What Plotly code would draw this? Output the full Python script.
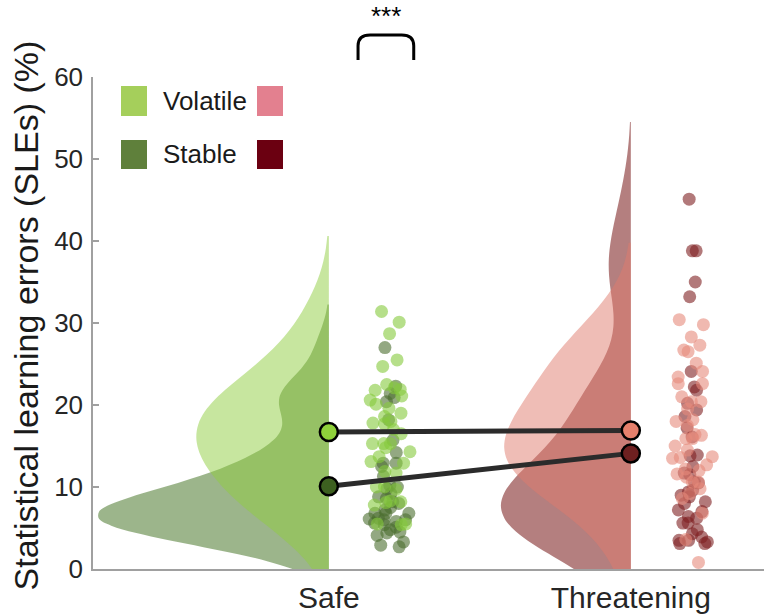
import plotly.graph_objects as go

# ---------------- data ----------------
categories = ["Safe", "Threatening"]
cat_pos = [1, 2]
conditions = ["Volatile", "Stable"]

safe_volatile = [31.4, 30.1, 28.7, 25.5, 24.7, 22.1, 21.9, 21.8, 21.1, 20.1,
                 19.6, 18.6, 17.8, 17.7, 15.3, 15.3, 15.3, 14.3, 13.7, 13.1,
                 12.9, 11.9, 11.7, 10.0, 10.0, 9.7, 8.3, 8.2, 8.1, 7.8,
                 18.0, 5.5, 5.5, 5.4, 22.5, 16.5, 19.0, 20.6, 14.8, 17.0]
safe_stable = [27.0, 22.3, 21.4, 20.9, 20.4, 18.2, 15.7, 14.2, 12.9, 12.5,
               12.9, 10.2, 10.0, 9.8, 8.8, 8.6, 8.2, 8.0, 6.8, 6.8,
               6.8, 6.2, 6.1, 6.0, 6.0, 5.6, 5.4, 5.1, 4.8, 4.5,
               4.1, 3.3, 2.9, 2.7, 7.2, 5.8, 4.4, 11.3, 9.2, 7.5]
threat_volatile = [30.4, 29.8, 28.3, 27.3, 26.5, 26.7, 25.1, 24.1, 23.4, 22.6,
                   22.6, 21.0, 20.4, 20.4, 18.2, 18.0, 17.5, 16.4, 16.3, 15.9,
                   15.9, 15.0, 13.7, 13.6, 13.5, 12.7, 12.2, 11.6, 11.2, 10.6,
                   10.6, 9.8, 9.2, 8.6, 6.8, 3.6, 0.8, 19.5, 14.5, 12.0]
threat_stable = [45.1, 38.8, 38.8, 35.0, 33.2, 24.1, 22.2, 21.8, 20.2, 19.4,
                 18.6, 17.2, 16.1, 13.9, 13.8, 11.7, 11.5, 10.6, 10.5, 9.6,
                 9.4, 9.0, 8.8, 8.0, 7.2, 7.0, 6.4, 6.2, 5.6, 5.6,
                 4.3, 3.9, 3.5, 3.5, 3.3, 3.1, 3.1, 12.5, 8.2, 4.8]

mean_volatile = [16.7, 16.9]
mean_stable = [10.1, 14.1]

y_ticks = [0, 10, 20, 30, 40, 50, 60]
significance = "***"
y_title = "Statistical learning errors (SLEs) (%)"

# ---------------- styles / layout ----------------
FONT = "Liberation Sans, Arial, Helvetica, sans-serif"
W, H = 764, 615
ML, MR, MT, MB = 93, 0, 77, 46
X_RANGE = [0.219, 2.441]
VIOLIN_HALF_PX = 230          # pixel half-width of the widest half-violin
POINT_POS = 0.27
JITTER = 0.1

# each category's violins live on their own (hidden) x axis, zoomed around the
# category so that the half-violins may be wider than half the category spacing
px_per_unit = (W - ML - MR) / (X_RANGE[1] - X_RANGE[0])
zoom = (VIOLIN_HALF_PX / 0.5) / px_per_unit


def zoomed_range(c):
    return [c + (X_RANGE[0] - c) / zoom, c + (X_RANGE[1] - c) / zoom]


bandwidths = {
    ("Safe", "Volatile"): 4.6,
    ("Safe", "Stable"): None,
    ("Threatening", "Volatile"): 4.7,
    ("Threatening", "Stable"): 4.7,
}
fills = {
    ("Safe", "Volatile"): "rgba(143,205,63,0.5)",
    ("Safe", "Stable"): "rgba(57,107,23,0.5)",
    ("Threatening", "Volatile"): "rgba(223,123,109,0.5)",
    ("Threatening", "Stable"): "rgba(105,0,0,0.5)",
}
point_colors = {
    ("Safe", "Volatile"): "#86c93c",
    ("Safe", "Stable"): "#4b6e2f",
    ("Threatening", "Volatile"): "#e68a7c",
    ("Threatening", "Stable"): "#7e1f22",
}
mean_colors_vol = ["#8fd13a", "#e5806c"]
mean_colors_stab = ["#3d6020", "#6e2020"]
legend_colors = {"Volatile": ["#a5cf5b", "#e3808f"], "Stable": ["#5f803b", "#6b0011"]}

data = {
    ("Safe", "Volatile"): safe_volatile,
    ("Safe", "Stable"): safe_stable,
    ("Threatening", "Volatile"): threat_volatile,
    ("Threatening", "Stable"): threat_stable,
}
violin_axes = {"Safe": "x", "Threatening": "x2"}

fig = go.Figure()

# stable first, volatile on top
for cat, pos in zip(categories, cat_pos):
    for cond in ["Stable", "Volatile"]:
        key = (cat, cond)
        kw = {}
        if bandwidths[key] is not None:
            kw["bandwidth"] = bandwidths[key]
        fig.add_trace(go.Violin(
            x0=pos, y=data[key], name=f"{cat} {cond}",
            xaxis=violin_axes[cat], yaxis="y",
            side="negative",
            scalegroup="all", scalemode="width", spanmode="soft",
            fillcolor=fills[key], line=dict(width=0, color="rgba(0,0,0,0)"),
            points="all", pointpos=POINT_POS, jitter=JITTER,
            marker=dict(color=point_colors[key], size=13, opacity=0.6,
                        line=dict(width=0)),
            box_visible=False, meanline_visible=False,
            showlegend=False, hoverinfo="skip", **kw,
        ))

# mean lines (on the visible category axis, drawn on top)
for means, mcols in [(mean_volatile, mean_colors_vol), (mean_stable, mean_colors_stab)]:
    fig.add_trace(go.Scatter(
        x=cat_pos, y=means, mode="lines+markers", xaxis="x3", yaxis="y",
        line=dict(color="#2b2b2b", width=5),
        marker=dict(size=18, color=mcols, line=dict(color="black", width=2.5)),
        showlegend=False, hoverinfo="skip", cliponaxis=False,
    ))

# custom legend (squares on both sides of the label)
shapes = []
annotations = []
rows = [("Volatile", 0.9817, 0.9207), ("Stable", 0.8720, 0.8130)]
for label, y_top, y_bot in rows:
    c_left, c_right = legend_colors[label]
    shapes.append(dict(type="rect", xref="paper", yref="paper", x0=0.0417, x1=0.0805,
                       y0=y_bot, y1=y_top, fillcolor=c_left, line=dict(width=0)))
    shapes.append(dict(type="rect", xref="paper", yref="paper", x0=0.2444, x1=0.2832,
                       y0=y_bot, y1=y_top, fillcolor=c_right, line=dict(width=0)))
    annotations.append(dict(text=label, xref="paper", yref="paper", x=0.1008,
                            y=(y_top + y_bot) / 2, xanchor="left", yanchor="middle",
                            showarrow=False, font=dict(family=FONT, size=26, color="#1a1a1a")))

# significance bracket
bx0, bx1, by0, by1, rx, ry = 0.395, 0.478, 1.0346, 1.0854, 0.018, 0.022
path = (f"M {bx0},{by0} L {bx0},{by1 - ry} Q {bx0},{by1} {bx0 + rx},{by1} "
        f"L {bx1 - rx},{by1} Q {bx1},{by1} {bx1},{by1 - ry} L {bx1},{by0}")
shapes.append(dict(type="path", xref="paper", yref="paper", path=path,
                   line=dict(color="black", width=3)))
annotations.append(dict(text=significance, xref="paper", yref="paper", x=0.4367, y=1.124,
                        xanchor="center", yanchor="middle", showarrow=False,
                        font=dict(family=FONT, size=26, color="black")))

# y-axis title as a rotated annotation
annotations.append(dict(text=y_title, xref="paper", yref="paper", x=-0.1006, y=0.5163,
                        xanchor="center", yanchor="middle", textangle=-90, showarrow=False,
                        font=dict(family=FONT, size=34, color="#1a1a1a")))

hidden_axis = dict(type="linear", visible=False, showgrid=False, zeroline=False)

fig.update_layout(
    width=W, height=H,
    margin=dict(l=ML, r=MR, t=MT, b=MB),
    paper_bgcolor="white", plot_bgcolor="white",
    violinmode="overlay", violingap=0, violingroupgap=0,
    shapes=shapes, annotations=annotations,
    font=dict(family=FONT, color="#262626"),
    xaxis=dict(hidden_axis, range=zoomed_range(cat_pos[0])),
    xaxis2=dict(hidden_axis, range=zoomed_range(cat_pos[1]), overlaying="x", anchor="y"),
    xaxis3=dict(type="linear", range=X_RANGE, overlaying="x", anchor="y", side="bottom",
                tickmode="array", tickvals=cat_pos, ticktext=categories,
                showgrid=False, zeroline=False,
                showline=True, linecolor="#a0a0a0", linewidth=1.5, ticks="",
                tickfont=dict(family=FONT, size=30, color="#262626"),
                ticklabelstandoff=1, automargin=False),
    yaxis=dict(range=[0, 60], tickmode="array", tickvals=y_ticks, showgrid=False,
               zeroline=False, showline=True, linecolor="#a0a0a0", linewidth=1.5,
               ticks="inside", ticklen=6, tickcolor="#a0a0a0", tickwidth=1.5,
               ticklabelstandoff=3, automargin=False,
               tickfont=dict(family=FONT, size=26, color="#262626")),
)

fig.write_html("out.html", config={"displayModeBar": False},
               post_script="document.body.style.margin='0px';")
